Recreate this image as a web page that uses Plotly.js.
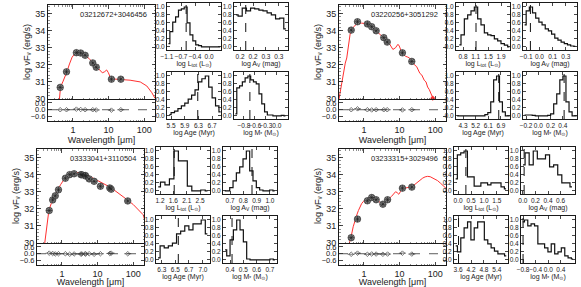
<!DOCTYPE html>
<html><head><meta charset="utf-8">
<script src="https://cdn.plot.ly/plotly-3.0.1.min.js"></script>
<style>html,body{margin:0;padding:0;background:#fff}#chart{width:581px;height:287px}</style>
</head><body><div id="chart"></div>
<script>
// ---------------- DATA ----------------
const histTitles = ['log L<sub>tot</sub> (L<sub>⊙</sub>)', 'log A<sub>V</sub> (mag)', 'log Age (Myr)', 'log M<sub>*</sub> (M<sub>⊙</sub>)'];

// Panel 1
const p1Name = '03212672+3046456';
const p1Wave = [0.44, 0.66, 1.25, 1.65, 2.2, 3.6, 4.5, 12, 22];
const p1Flux = [30.68, 31.59, 32.71, 32.69, 32.56, 32.11, 31.86, 31.16, 31.16];
const p1Res  = [0.0, 0.0, 0.05, 0.02, 0.0, 0.0, -0.02, -0.04, 0.0];
const p1ModelWave = [0.415, 0.43, 0.45, 0.52, 0.6, 0.68, 0.8, 0.95, 1.1, 1.3, 1.5, 1.8, 2.2, 2.8, 3.6, 4.5, 5.5, 6.7, 7.8, 8.8, 9.8, 11, 14, 21, 40, 77, 118, 163, 200];
const p1ModelFlux = [29.9, 30.4, 30.72, 31.0, 31.3, 31.6, 32.05, 32.45, 32.62, 32.7, 32.7, 32.65, 32.55, 32.38, 32.12, 31.88, 31.72, 31.53, 31.6, 31.7, 31.55, 31.3, 31.17, 31.15, 31.1, 31.0, 30.76, 30.37, 30.04];
const p1LtotX = [-1.0625, -0.9875, -0.9125, -0.8375, -0.7625, -0.6875, -0.6125, -0.5375, -0.4625, -0.3875, -0.3125, -0.2375, -0.1625, -0.0875, -0.0125, 0.0625, 0.1375, 0.2125, 0.2875];
const p1LtotY = [0.08, 0.38, 0.62, 0.75, 0.92, 0.95, 1.0, 0.6, 0.3, 0.15, 0.05, 0.03, 0, 0, 0, 0, 0, 0, 0];
const p1AvX = [0.149, 0.166, 0.184, 0.202, 0.219, 0.237, 0.255, 0.272, 0.290, 0.308, 0.326, 0.343, 0.361];
const p1AvY = [0.8, 0.77, 0.97, 0.9, 0.97, 0.95, 0.92, 0.9, 0.85, 0.8, 0.7, 0.72, 0.45];
const p1AgeX = [5.45, 5.55, 5.65, 5.75, 5.85, 5.95, 6.05, 6.15, 6.25, 6.35, 6.45, 6.55, 6.65, 6.75, 6.85, 6.95];
const p1AgeY = [0.03, 0.08, 0.12, 0.18, 0.25, 0.32, 0.42, 0.52, 0.65, 0.85, 0.93, 1.0, 0.72, 0.45, 0.25, 0.1];
const p1MassX = [-1.045, -0.975, -0.905, -0.835, -0.765, -0.695, -0.625, -0.555, -0.485, -0.415, -0.345, -0.275, -0.205, -0.135, -0.065, 0.005, 0.075, 0.145, 0.215];
const p1MassY = [0.05, 0.7, 0.75, 0.85, 0.95, 1.0, 0.9, 0.85, 0.8, 0.55, 0.3, 0.1, 0.02, 0.02, 0, 0, 0, 0.01, 0];
const p1Best = [-0.6, 0.19, 6.28, -0.68];
const p1TickVals = [[-1.1, -0.733, -0.367, 0], [0.166, 0.221, 0.276, 0.331], [5.5, 5.9, 6.3, 6.7], [-0.83, -0.553, -0.277, 0]];
const p1TickText = [['−1.1', '−0.7', '−0.4', '0.0'], ['0.2', '0.2', '0.3', '0.3'], ['5.5', '5.9', '6.3', '6.7'], ['−0.8', '−0.6', '−0.3', '0.0']];

// Panel 2
const p2Name = '03220256+3051292';
const p2Wave = [0.44, 0.66, 1.25, 1.65, 2.2, 3.6, 4.5, 12, 22];
const p2Flux = [34.03, 34.52, 34.39, 34.23, 33.99, 33.59, 33.33, 32.7, 32.2];
const p2Res  = [0.0, 0.08, 0.0, -0.02, 0.0, 0.0, 0.0, -0.02, 0.0];
const p2LimWave = [85];
const p2LimFlux = [30.05];
const p2ModelWave = [0.2, 0.22, 0.24, 0.27, 0.3, 0.33, 0.37, 0.41, 0.45, 0.5, 0.58, 0.7, 0.85, 1.07, 1.3, 1.63, 2.0, 2.5, 3.0, 3.8, 4.5, 5.3, 6.5, 7.2, 7.7, 8.3, 9.0, 9.8, 11.1, 13, 14.7, 17, 19, 22, 26, 30, 34, 37, 42, 49, 55, 61, 68, 75, 82, 88];
const p2ModelFlux = [30.0, 30.5, 31.0, 31.5, 32.1, 32.4, 33.2, 33.8, 34.0, 34.19, 34.33, 34.42, 34.44, 34.42, 34.35, 34.23, 34.08, 33.89, 33.72, 33.55, 33.4, 33.2, 32.9, 32.95, 33.0, 33.1, 33.2, 33.1, 32.8, 32.6, 32.5, 32.45, 32.4, 32.25, 32.0, 31.9, 31.7, 31.5, 31.4, 31.1, 31.0, 30.7, 30.55, 30.3, 30.2, 30.0];
const p2LtotX = [0.65, 0.75, 0.85, 0.95, 1.05, 1.15, 1.25, 1.35, 1.45, 1.55, 1.65, 1.75, 1.85, 1.95, 2.05, 2.15];
const p2LtotY = [0.05, 0.3, 0.7, 0.8, 0.9, 1.0, 0.7, 0.55, 0.35, 0.3, 0.28, 0.2, 0.15, 0.08, 0.04, 0];
const p2AvX = [-0.115, -0.085, -0.055, -0.025, 0.005, 0.035, 0.065, 0.095, 0.125, 0.155, 0.185, 0.215, 0.245, 0.275, 0.305, 0.335, 0.365];
const p2AvY = [0.55, 0.9, 1.0, 0.85, 0.72, 0.62, 0.55, 0.45, 0.4, 0.32, 0.22, 0.17, 0.12, 0.08, 0.05, 0.02, 0.01];
const p2AgeX = [3.9, 4.1, 4.3, 4.5, 4.7, 4.9, 5.1, 5.3, 5.5, 5.7, 5.9, 6.1, 6.3, 6.5, 6.7, 6.9, 7.1, 7.3, 7.5];
const p2AgeY = [0, 0, 0, 0, 0, 0, 0, 0, 0, 0, 0.03, 0.08, 0.35, 0.9, 1.0, 0.35, 0.1, 0, 0];
const p2MassX = [-0.225, -0.175, -0.125, -0.075, -0.025, 0.025, 0.075, 0.125, 0.175, 0.225, 0.275, 0.325, 0.375, 0.425, 0.475, 0.525, 0.575, 0.625];
const p2MassY = [0.02, 0.02, 0.02, 0.01, 0, 0, 0, 0, 0.01, 0.05, 0.3, 0.55, 0.9, 1.0, 0.35, 0.1, 0, 0];
const p2Best = [1.15, -0.06, 6.75, 0.42];
const p2TickVals = [[0.76, 1.14, 1.52, 1.9], [-0.1, 0.025, 0.15, 0.275], [4.3, 5.167, 6.033, 6.9], [-0.2, 0, 0.2, 0.4]];
const p2TickText = [['0.8', '1.1', '1.5', '1.9'], ['−0.1', '0.0', '0.1', '0.3'], ['4.3', '5.2', '6.1', '6.9'], ['−0.2', '0.0', '0.2', '0.4']];

// Panel 3
const p3Name = '03333041+3110504';
const p3Wave = [0.44, 0.55, 0.65, 0.8, 1.25, 1.65, 2.2, 3.4, 3.6, 4.5, 4.6, 5.8, 8.0, 12, 22, 24, 70];
const p3Flux = [31.9, 32.52, 32.76, 33.11, 33.79, 34.0, 34.05, 34.0, 33.99, 33.95, 33.92, 33.75, 33.61, 33.32, 33.22, 33.15, 32.46];
const p3Res  = [0.05, 0.02, -0.02, 0.0, 0.0, -0.05, -0.02, -0.03, -0.02, 0.0, -0.03, 0.0, -0.05, 0.0, 0.02, 0.05, 0.0];
const p3ModelWave = [0.33, 0.36, 0.38, 0.43, 0.5, 0.56, 0.66, 0.78, 0.92, 1.09, 1.3, 1.52, 1.9, 2.35, 3.0, 3.65, 4.5, 5.65, 7.5, 9.8, 14, 18.9, 27, 36.6, 55, 75, 100, 122, 150, 169, 190, 205, 215];
const p3ModelFlux = [30.0, 30.7, 31.17, 31.9, 32.3, 32.6, 32.85, 33.15, 33.42, 33.65, 33.85, 33.97, 34.08, 34.12, 34.12, 34.08, 34.0, 33.93, 33.8, 33.69, 33.5, 33.35, 33.15, 32.96, 32.7, 32.46, 32.25, 32.06, 31.9, 31.77, 31.65, 31.4, 31.1];
const p3LtotX = [1.1425, 1.2875, 1.4325, 1.5775, 1.7225, 1.8675, 2.0125, 2.1575, 2.3025, 2.4475, 2.5925, 2.7375];
const p3LtotY = [0.1, 0.22, 0.15, 0.3, 1.0, 0.75, 0.75, 0.12, 0, 0, 0.02, 0];
const p3AvX = [0.66, 0.685, 0.71, 0.735, 0.76, 0.785, 0.81, 0.835, 0.86, 0.885, 0.91, 0.935, 0.96, 0.985, 1.01, 1.035];
const p3AvY = [0, 0, 0.08, 0.25, 0.45, 0.6, 0.8, 1.0, 0.5, 0.25, 0.08, 0.02, 0, 0, 0.02, 0];
const p3AgeX = [6.205, 6.275, 6.345, 6.415, 6.485, 6.555, 6.625, 6.695, 6.765, 6.835, 6.905, 6.975, 7.045];
const p3AgeY = [0.05, 0.35, 0.3, 0.35, 0.42, 0.65, 0.72, 0.85, 0.75, 0.9, 0.9, 1.0, 0.65];
const p3MassX = [0.3625, 0.3875, 0.4125, 0.4375, 0.4625, 0.4875, 0.5125, 0.5375, 0.5625, 0.5875, 0.6125, 0.6375, 0.6625, 0.6875, 0.7125, 0.7375];
const p3MassY = [0.25, 0.1, 0.5, 0.75, 1.0, 0.75, 0.45, 0.02, 0, 0, 0, 0, 0, 0, 0.02, 0];
const p3Best = [1.66, 0.865, 6.55, 0.415];
const p3TickVals = [[1.2, 1.633, 2.067, 2.5], [0.7, 0.8, 0.9, 1.0], [6.27, 6.5, 6.73, 6.97], [0.4, 0.5, 0.6, 0.7]];
const p3TickText = [['1.2', '1.6', '2.1', '2.5'], ['0.7', '0.8', '0.9', '1.0'], ['6.3', '6.5', '6.7', '7.0'], ['0.4', '0.5', '0.6', '0.7']];

// Panel 4
const p4Name = '03233315+3029496';
const p4Wave = [0.44, 0.66, 1.25, 1.65, 2.2, 3.4, 4.6, 12, 22];
const p4Flux = [30.31, 31.4, 32.47, 32.66, 32.53, 32.27, 32.53, 33.21, 33.27];
const p4Res  = [-0.05, 0.05, -0.05, -0.02, -0.03, -0.05, -0.03, 0.05, -0.03];
const p4ModelWave = [0.39, 0.43, 0.5, 0.56, 0.63, 0.7, 0.77, 0.86, 0.96, 1.1, 1.24, 1.4, 1.56, 1.75, 1.9, 2.15, 2.5, 2.9, 3.3, 3.8, 4.6, 5.9, 6.8, 7.7, 8.5, 9.5, 10.5, 11.5, 12.5, 13.8, 16, 19.8, 24, 29, 36, 44.6, 52, 61, 72, 84, 100, 116, 140, 170, 200];
const p4ModelFlux = [30.0, 30.3, 30.95, 31.35, 31.64, 31.9, 32.13, 32.3, 32.43, 32.55, 32.59, 32.65, 32.68, 32.6, 32.52, 32.58, 32.48, 32.35, 32.26, 32.33, 32.53, 32.72, 32.85, 33.0, 32.95, 32.85, 33.0, 33.15, 33.25, 33.21, 33.23, 33.27, 33.35, 33.5, 33.65, 33.8, 33.87, 33.9, 33.88, 33.8, 33.72, 33.65, 33.5, 33.35, 33.2];
const p4LtotX = [-0.095, 0.035, 0.165, 0.295, 0.425, 0.555, 0.685, 0.815, 0.945, 1.075, 1.205, 1.335, 1.465, 1.595, 1.725, 1.855];
const p4LtotY = [0.3, 0.9, 0.95, 1.0, 0.35, 0.35, 0.12, 0.12, 0.2, 0.2, 0.15, 0.2, 0.2, 0.2, 0.1, 0.05];
const p4AvX = [0.0025, 0.0675, 0.1325, 0.1975, 0.2625, 0.3275, 0.3925, 0.4575, 0.5225, 0.5875, 0.6525, 0.7175, 0.7825];
const p4AvY = [0.65, 0.95, 0.65, 1.0, 0.8, 0.8, 0.9, 0.6, 0.65, 0.4, 0.2, 0.2, 0.1];
const p4AgeX = [3.49, 3.65, 3.80, 3.96, 4.12, 4.27, 4.43, 4.59, 4.74, 4.90, 5.06, 5.21, 5.37, 5.53, 5.68, 5.84];
const p4AgeY = [0.35, 0.2, 0.55, 0.8, 0.95, 0.5, 0.8, 0.95, 0.95, 0.5, 0.4, 0.3, 0.22, 0.15, 0.15, 0.1];
const p4MassX = [-0.81, -0.70, -0.60, -0.49, -0.38, -0.28, -0.17, -0.06, 0.04, 0.15, 0.26, 0.36, 0.47, 0.58, 0.68, 0.79];
const p4MassY = [0.95, 1.0, 0.85, 0.9, 0.85, 0.4, 0.4, 0.3, 0.2, 0.4, 0.15, 0.2, 0.3, 0.1, 0.05, 0.02];
const p4Best = [0.3, 0.02, 3.62, -0.8];
const p4TickVals = [[0, 0.5, 1.0, 1.5], [0, 0.2, 0.4, 0.6], [3.6, 4.2, 4.8, 5.4], [-0.8, -0.4, 0, 0.4]];
const p4TickText = [['0.0', '0.5', '1.0', '1.5'], ['0.0', '0.2', '0.4', '0.6'], ['3.6', '4.2', '4.8', '5.4'], ['−0.8', '−0.4', '0.0', '0.4']];

// ---------------- LAYOUT / BUILD ----------------
const W = 581, H = 287;
const panels = [
  {name: p1Name, wave: p1Wave, flux: p1Flux, res: p1Res, mw: p1ModelWave, mf: p1ModelFlux,
   hx: [p1LtotX, p1AvX, p1AgeX, p1MassX], hy: [p1LtotY, p1AvY, p1AgeY, p1MassY], best: p1Best, tv: p1TickVals, tt: p1TickText,
   hr: [[-1.1, 0.31], [0.14, 0.37], [5.38, 6.96], [-1.08, 0.28]], dx: 0, dy: 0, hdx: 0},
  {name: p2Name, wave: p2Wave, flux: p2Flux, res: p2Res, mw: p2ModelWave, mf: p2ModelFlux, limW: p2LimWave, limF: p2LimFlux,
   hx: [p2LtotX, p2AvX, p2AgeX, p2MassX], hy: [p2LtotY, p2AvY, p2AgeY, p2MassY], best: p2Best, tv: p2TickVals, tt: p2TickText,
   hr: [[0.55, 2.17], [-0.13, 0.38], [3.82, 7.52], [-0.25, 0.63]], dx: 291, dy: 0, hdx: 289},
  {name: p3Name, wave: p3Wave, flux: p3Flux, res: p3Res, mw: p3ModelWave, mf: p3ModelFlux,
   hx: [p3LtotX, p3AvX, p3AgeX, p3MassX], hy: [p3LtotY, p3AvY, p3AgeY, p3MassY], best: p3Best, tv: p3TickVals, tt: p3TickText,
   hr: [[1.07, 2.82], [0.647, 1.053], [6.17, 7.09], [0.347, 0.753]], dx: -11, dy: 144, hdx: -11},
  {name: p4Name, wave: p4Wave, flux: p4Flux, res: p4Res, mw: p4ModelWave, mf: p4ModelFlux,
   hx: [p4LtotX, p4AvX, p4AgeX, p4MassX], hy: [p4LtotY, p4AvY, p4AgeY, p4MassY], best: p4Best, tv: p4TickVals, tt: p4TickText,
   hr: [[-0.16, 1.93], [-0.03, 0.83], [3.41, 5.92], [-0.865, 0.85]], dx: 291, dy: 144, hdx: 287}
];

const ink = '#1a1a1a';
const axBase = {showline: true, mirror: 'allticks', linecolor: ink, linewidth: 1, ticks: 'inside', ticklen: 3.5,
  tickcolor: ink, tickwidth: 0.8, showgrid: false, zeroline: false, fixedrange: true, tickangle: 0};
const minorLog = {ticks: 'inside', ticklen: 1.5, dtick: 'D1', tickcolor: '#444', tickwidth: 0.6};
const xd = (a, b) => [a / W, b / W];
const yd = (top, bot) => [1 - bot / H, 1 - top / H];
const sid = k => (k === 1 ? '' : String(k));
const sedRange = [Math.log10(0.2), Math.log10(200)];

const traces = [];
const layout = {width: W, height: H, margin: {l: 0, r: 0, t: 0, b: 0}, showlegend: false,
  paper_bgcolor: '#fff', plot_bgcolor: '#fff',
  font: {family: 'Liberation Sans, Arial, DejaVu Sans, sans-serif', size: 9, color: '#222'},
  shapes: [], annotations: []};
let n = 0;

panels.forEach(P => {
  const dx = P.dx, dy = P.dy;
  // main SED
  const a = ++n, A = sid(a);
  layout['xaxis' + A] = Object.assign({}, axBase, {domain: xd(48 + dx, 155 + dx), type: 'log', range: sedRange, dtick: 1,
    showticklabels: false, anchor: 'y' + A, minor: minorLog});
  layout['yaxis' + A] = Object.assign({}, axBase, {domain: yd(5 + dy, 99 + dy), range: [30, 35.5], tickvals: [30, 31, 32, 33, 34, 35],
    anchor: 'x' + A, tickfont: {size: 9}, minor: {ticks: 'inside', ticklen: 1.5, dtick: 0.2, tickcolor: '#444', tickwidth: 0.6},
    title: {text: 'log νF<sub>ν</sub> (erg/s)', font: {size: 9}, standoff: 3}});
  traces.push({x: P.mw, y: P.mf, mode: 'lines', line: {color: '#ff3030', width: 1}, xaxis: 'x' + A, yaxis: 'y' + A, hoverinfo: 'skip'});
  traces.push({x: P.wave, y: P.flux, mode: 'markers', marker: {symbol: 'circle', size: 6.5, color: '#8c8c8c', line: {color: '#333', width: 0.7}},
    xaxis: 'x' + A, yaxis: 'y' + A});
  traces.push({x: P.wave, y: P.flux, mode: 'markers', marker: {symbol: 'asterisk-open', size: 5, color: '#222', line: {color: '#222', width: 0.7}},
    xaxis: 'x' + A, yaxis: 'y' + A});
  if (P.limW) traces.push({x: P.limW, y: P.limF, mode: 'markers', marker: {symbol: 'diamond', size: 4, color: '#ff3030'},
    xaxis: 'x' + A, yaxis: 'y' + A, cliponaxis: false});
  layout.annotations.push({xref: 'x' + A + ' domain', yref: 'y' + A + ' domain', x: 0.94, y: 0.895, xanchor: 'right', yanchor: 'middle',
    text: P.name, showarrow: false, font: {size: 7.5, color: '#222'}});
  // residual (its top edge is the main panel's bottom axis)
  const b = ++n, B = sid(b);
  layout['xaxis' + B] = Object.assign({}, axBase, {domain: xd(48 + dx, 155 + dx), type: 'log', range: sedRange, dtick: 1, mirror: false,
    anchor: 'y' + B, tickfont: {size: 9}, minor: minorLog,
    title: {text: 'Wavelength [μm]', font: {size: 9}, standoff: 2}});
  layout['yaxis' + B] = Object.assign({}, axBase, {domain: yd(99 + dy, 121 + dy), range: [-1.0, 0.95], tickvals: [-0.6, 0, 0.6],
    ticktext: ['−0.6', '0.0', '0.6'], anchor: 'x' + B, tickfont: {size: 7.5}});
  traces.push({x: P.wave, y: P.res, mode: 'markers', marker: {symbol: 'line-ew-open', size: 5, color: '#444', line: {color: '#444', width: 0.7}},
    xaxis: 'x' + B, yaxis: 'y' + B});
  traces.push({x: P.wave, y: P.res, mode: 'markers', marker: {symbol: 'diamond-open', size: 3.5, color: '#444', line: {color: '#444', width: 0.7}},
    xaxis: 'x' + B, yaxis: 'y' + B});
  layout.shapes.push({type: 'line', xref: 'x' + B + ' domain', x0: 0, x1: 1, yref: 'y' + B, y0: 0, y1: 0,
    line: {color: '#333', width: 0.8, dash: 'dash'}});
  // histograms
  for (let i = 0; i < 4; i++) {
    const c = ++n, C = sid(c);
    const col = i % 2, row = Math.floor(i / 2);
    const x0 = (col === 0 ? 167 : 234) + P.hdx;
    const y0 = (row === 0 ? 3 : 72) + dy;
    layout['xaxis' + C] = Object.assign({}, axBase, {domain: xd(x0, x0 + 54), range: P.hr[i], tickvals: P.tv[i], ticktext: P.tt[i],
      anchor: 'y' + C, tickfont: {size: 6.5}, ticklen: 3, title: {text: histTitles[i], font: {size: 7}, standoff: 1}});
    layout['yaxis' + C] = Object.assign({}, axBase, {domain: yd(y0, y0 + 47), range: [-0.08, 1.1], tickvals: [0, 0.2, 0.4, 0.6, 0.8, 1.0],
      ticktext: ['0.0', '0.2', '0.4', '0.6', '0.8', '1.0'], anchor: 'x' + C, tickfont: {size: 6.5}, ticklen: 3});
    traces.push({x: P.hx[i], y: P.hy[i], mode: 'lines', line: {shape: 'hvh', color: '#111', width: 1.2},
      xaxis: 'x' + C, yaxis: 'y' + C, hoverinfo: 'skip'});
    layout.shapes.push({type: 'line', xref: 'x' + C, x0: P.best[i], x1: P.best[i], yref: 'y' + C + ' domain', y0: 0, y1: 1,
      line: {color: '#111', width: 1, dash: 'dash'}});
  }
});

Plotly.newPlot('chart', traces, layout, {staticPlot: true, displayModeBar: false});
</script>
</body></html>
